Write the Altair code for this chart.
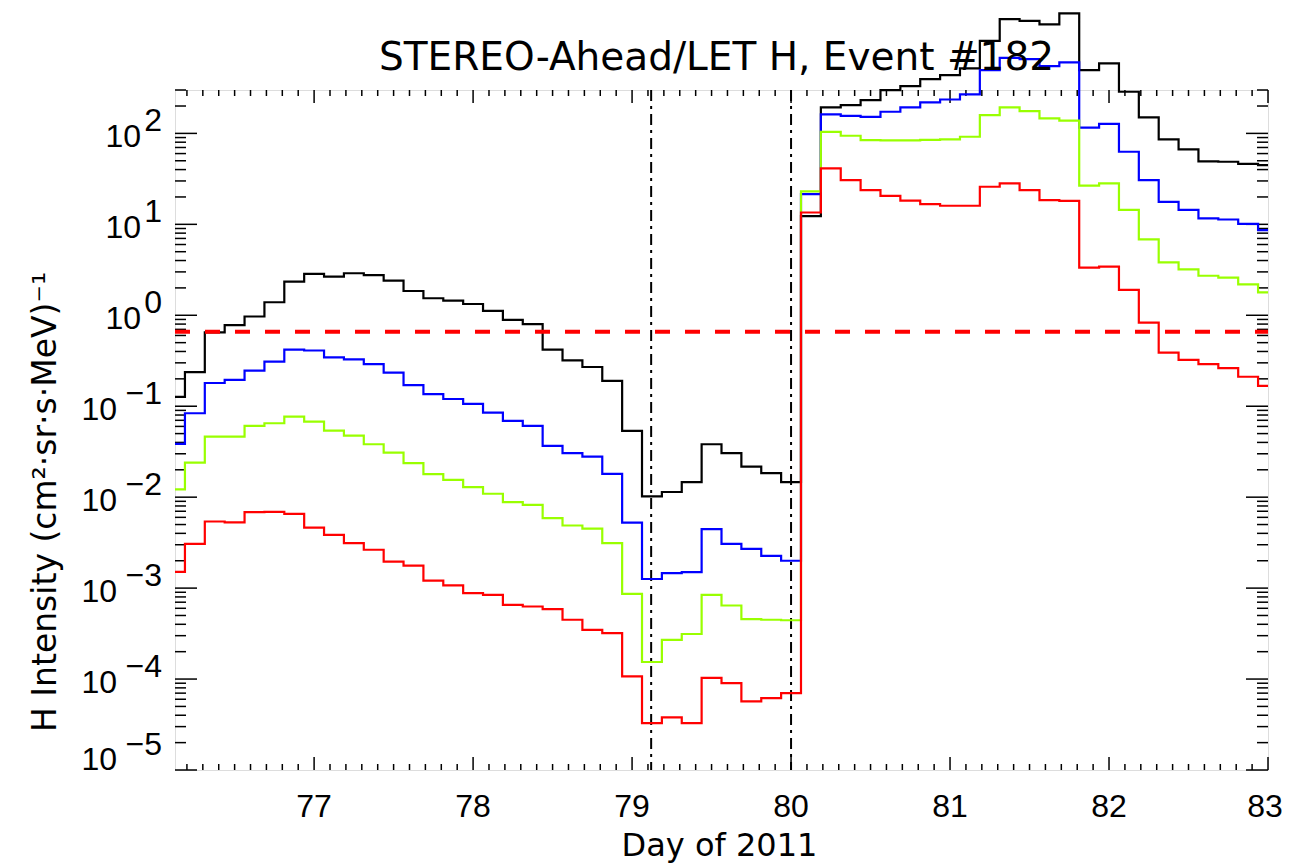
import altair as alt
import pandas as pd

# ---------------- data (3-hour averages, day of 2011) ----------------
t0 = 76.125
dt = 0.125
black = [0.127, 0.237, 0.65, 0.78, 0.97, 1.39, 2.34, 2.86, 2.66, 2.9, 2.77, 2.4, 1.85, 1.54, 1.45, 1.33,
         1.12, 0.89, 0.80, 0.42, 0.32, 0.27, 0.19, 0.0536, 0.0102, 0.0114, 0.0146, 0.0382, 0.0305, 0.0217,
         0.0184, 0.0146, 12.3, 193, 205, 232, 299, 331, 395, 437, 518, 1042, 1803, 1727, 1578, 2083,
         496, 588, 287, 150, 85.9, 66.7, 49.2, 48.8, 46.3, 44.8]
blue = [0.0386, 0.0837, 0.18, 0.195, 0.246, 0.309, 0.419, 0.41, 0.345, 0.328, 0.29, 0.234, 0.171, 0.136,
        0.12, 0.106, 0.085, 0.0689, 0.0608, 0.0366, 0.0305, 0.0279, 0.018, 0.00526, 0.00126, 0.00146,
        0.0015, 0.00445, 0.00307, 0.0027, 0.00226, 0.002, 21.5, 162, 156, 152, 173, 193, 219, 236, 268,
        496, 677, 655, 549, 603, 116, 127, 62.8, 30.7, 17.7, 14.4, 11.6, 11.3, 10.1, 8.65]
green = [0.0122, 0.024, 0.0463, 0.0463, 0.0608, 0.065, 0.0769, 0.0678, 0.054, 0.0475, 0.0382, 0.0309,
         0.0237, 0.0179, 0.0155, 0.0129, 0.0109, 0.00881, 0.00822, 0.00587, 0.00488, 0.00452, 0.00313,
         0.000865, 0.000154, 0.00027, 0.000313, 0.000843, 0.000644, 0.000456, 0.000449, 0.000443, 23,
         104, 94.2, 84.4, 84, 84, 85, 86, 91.8, 159, 193, 176, 146, 138, 26.6, 28.2, 14.4, 6.84, 3.82,
         3.2, 2.72, 2.59, 2.19, 1.79]
red = [0.00151, 0.00307, 0.0054, 0.00527, 0.00684, 0.0069, 0.00655, 0.00463, 0.00385, 0.00313, 0.00264,
       0.00196, 0.00177, 0.00121, 0.00107, 0.00088, 0.000843, 0.000655, 0.000628, 0.000587, 0.000449,
       0.000348, 0.00032, 0.000107, 3.28e-5, 3.79e-5, 3.28e-5, 0.000103, 9.04e-5, 5.68e-5, 6.18e-5,
       7.02e-5, 13.5, 41.2, 30.7, 23.8, 20.6, 18.2, 16.7, 16, 16, 25.9, 28.2, 23.8, 18.5, 18.1, 3.34,
       3.43, 1.9, 0.83, 0.388, 0.323, 0.29, 0.262, 0.211, 0.167]
days = [round(t0 + dt * i, 3) for i in range(len(black))]

event_lines = [79.12, 80.0]
threshold = [0.66]

x_major = [77, 78, 79, 80, 81, 82, 83]
x_minor = [round(76.2 + 0.1 * k, 1) for k in range(68) if abs((76.2 + 0.1 * k) - round(76.2 + 0.1 * k)) > 0.01]
y_exps = [2, 1, 0, -1, -2, -3, -4, -5]
y_major = [10.0 ** e for e in y_exps]
y_minor = [m * 10.0 ** e for e in range(-5, 3) for m in range(2, 10) if m * 10.0 ** e <= 300]
exp_text = [str(e).replace("-", "\u2212") for e in y_exps]

title_text = ["STEREO-Ahead/LET H, Event #182"]
xtitle_text = ["Day of 2011"]
ytitle_text = ["H Intensity (cm\u00b2\u00b7sr\u00b7s\u00b7MeV)\u207b\u00b9"]

W, H = 1093, 680
xscale = alt.Scale(domain=[76.125, 83.0], nice=False, zero=False)
yscale = alt.Scale(type="log", domain=[1e-5, 300], nice=False)


def series(vals, color):
    df = pd.DataFrame({"day": days, "val": vals})
    return alt.Chart(df).mark_line(interpolate="step", color=color, strokeWidth=2.2).encode(
        x=alt.X("day:Q", scale=xscale, axis=None),
        y=alt.Y("val:Q", scale=yscale, axis=None))


def xticks(vals, length, top):
    df = pd.DataFrame({"d": vals})
    y1, y2 = (0, length) if top else (H, H - length)
    return alt.Chart(df).mark_rule(color="black", strokeWidth=1.5).encode(
        x=alt.X("d:Q", scale=xscale, axis=None), y=alt.value(y1), y2=alt.value(y2))


def yticks(vals, length, right):
    df = pd.DataFrame({"v": vals})
    x1, x2 = (W, W - length) if right else (0, length)
    return alt.Chart(df).mark_rule(color="black", strokeWidth=1.5).encode(
        y=alt.Y("v:Q", scale=yscale, axis=None), x=alt.value(x1), x2=alt.value(x2))


ticks = [xticks(x_major, 13, False), xticks(x_minor, 6, False), xticks(x_major, 13, True),
         xticks(x_minor, 6, True), yticks(y_major, 22, False), yticks(y_minor, 11, False),
         yticks(y_major, 22, True), yticks(y_minor, 11, True)]

xlab_df = pd.DataFrame({"d": x_major, "t": [str(v) for v in x_major]})


def xlab(filt, dx):
    return alt.Chart(xlab_df).transform_filter(filt).mark_text(
        font="Liberation Sans", fontSize=32, baseline="alphabetic", align="center", dx=dx,
        color="black").encode(x=alt.X("d:Q", scale=xscale, axis=None), y=alt.value(727), text="t:N")


xlabels = [xlab("datum.d < 83", 0), xlab("datum.d >= 83", -3)]

ylab_df = pd.DataFrame({"v": y_major, "e": y_exps, "t": exp_text})


def ylab(filt, xpos, dy, base):
    ch = alt.Chart(ylab_df).transform_filter(filt).mark_text(
        font="Liberation Sans", fontSize=32, baseline="alphabetic", align="right", dy=dy, color="black")
    return ch.encode(y=alt.Y("v:Q", scale=yscale, axis=None), x=alt.value(xpos),
                     text=alt.value("10") if base else alt.Text("t:N"))


ylabels = [ylab("datum.e >= 0", -34, 14, True), ylab("datum.e < 0 && datum.e > -5", -58, 14, True),
           ylab("datum.e == -5", -58, 0, True), ylab("datum.e > -5", -13, -2, False),
           ylab("datum.e == -5", -13, -15, False)]

vl = alt.Chart(pd.DataFrame({"d": event_lines})).mark_rule(
    color="black", strokeWidth=2, strokeDash=[11, 5, 3, 5]).encode(
    x=alt.X("d:Q", scale=xscale, axis=None), y=alt.value(0), y2=alt.value(H))

thr = alt.Chart(pd.DataFrame({"v": threshold})).mark_rule(
    color="#ff0000", strokeWidth=4, strokeDash=[15, 15]).encode(
    y=alt.Y("v:Q", scale=yscale, axis=None), x=alt.value(0), x2=alt.value(W))

title = alt.Chart(pd.DataFrame({"t": title_text})).mark_text(
    font="DejaVu Sans", fontSize=39, align="center", baseline="alphabetic", color="black").encode(
    text="t:N", x=alt.value(W / 2 - 5), y=alt.value(-20))

xtitle = alt.Chart(pd.DataFrame({"t": xtitle_text})).mark_text(
    font="DejaVu Sans", fontSize=32, align="center", baseline="alphabetic", color="black").encode(
    text="t:N", x=alt.value(W / 2 - 2), y=alt.value(766))

ytitle = alt.Chart(pd.DataFrame({"t": ytitle_text})).mark_text(
    font="DejaVu Sans", fontSize=33, align="left", baseline="alphabetic", angle=270, color="black").encode(
    text="t:N", x=alt.value(-119), y=alt.value(642))

chart = alt.layer(
    *ticks, vl,
    series(black, "black"), series(blue, "#0000ff"), series(green, "#99ff00"), series(red, "#ff0000"),
    thr, *xlabels, *ylabels, title, xtitle, ytitle,
).properties(
    width=W, height=H,
    padding={"left": 167, "top": 82, "right": 15, "bottom": 94},
    autosize=alt.AutoSizeParams(type="none"),
).configure_view(stroke="black", strokeWidth=2).configure(background="white")

chart.save("out.html", embed_options={"renderer": "svg", "actions": False})
